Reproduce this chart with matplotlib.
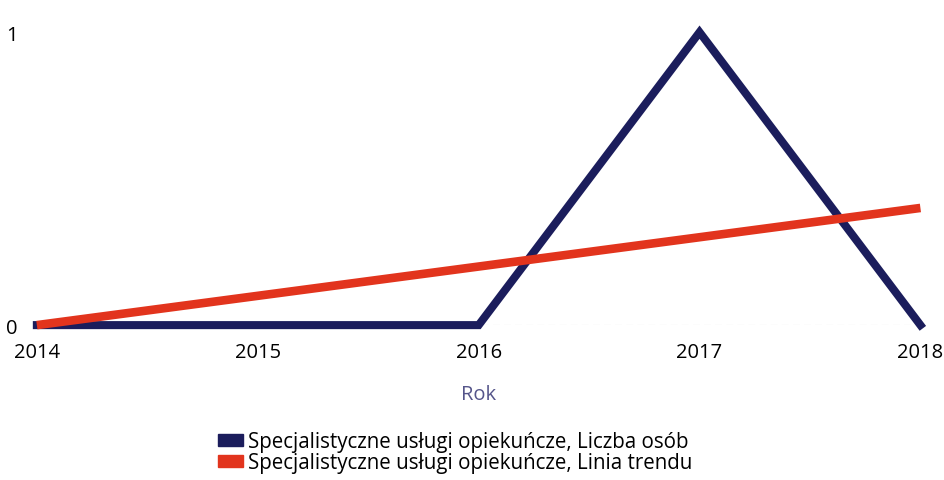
import matplotlib
matplotlib.use("Agg")
import matplotlib.pyplot as plt
from matplotlib.patches import Patch

years = ["2014", "2015", "2016", "2017", "2018"]
liczba_osob = [0, 0, 0, 1, 0]
linia_trendu = [0, 0.1, 0.2, 0.3, 0.4]
y_ticks = [0, 1]
series_names = ["Specjalistyczne usługi opiekuńcze, Liczba osób",
                "Specjalistyczne usługi opiekuńcze, Linia trendu"]

NAVY = "#1b1d5c"
RED = "#e2341d"

plt.rcParams['font.family'] = ['Open Sans', 'DejaVu Sans']

fig = plt.figure(figsize=(9.45, 4.81), dpi=100)
ax = fig.add_axes([0.039, 0.322, 0.935, 0.609])
x = list(range(len(years)))

ax.axhline(0, color="#cccccc", lw=0.8, ls=(0, (6, 4)), zorder=1)
ax.plot(x, liczba_osob, color=NAVY, lw=5.8, solid_joinstyle="miter", clip_on=False, zorder=3)
ax.plot(x, linia_trendu, color=RED, lw=6.2, solid_capstyle="butt", clip_on=False, zorder=4)

ax.set_xlim(0, len(years) - 1)
ax.set_ylim(0, 1)
ax.set_xticks(x)
ax.set_xticklabels(years, fontsize=14.5)
ax.set_yticks(y_ticks)
ax.set_yticklabels([str(v) for v in y_ticks], fontsize=14.5)
ax.tick_params(length=0, pad=12, axis="x")
ax.tick_params(length=0, pad=14, axis="y")
for s in ax.spines.values():
    s.set_visible(False)

ax.set_xlabel("Rok", fontsize=14.5, color="#55558a", labelpad=16)

handles = [Patch(color=NAVY), Patch(color=RED)]
fig.legend(handles, series_names, loc="center", bbox_to_anchor=(0.482, 0.058),
           frameon=False, fontsize=14.8, handlelength=1.2, handleheight=0.55,
           handletextpad=0.25, labelspacing=0.0)

fig.savefig("out.png", dpi=100)
